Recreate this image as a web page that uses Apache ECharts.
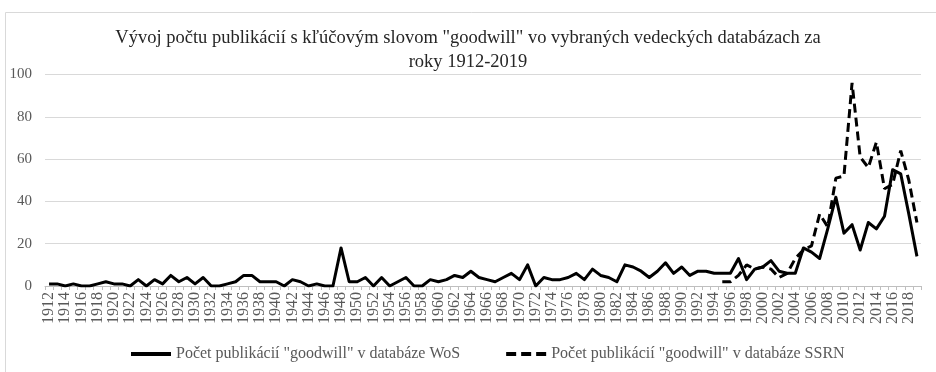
<!DOCTYPE html>
<html>
<head>
<meta charset="utf-8">
<script src="https://cdn.jsdelivr.net/npm/echarts@6/dist/echarts.min.js"></script>
<style>
  html, body { margin: 0; padding: 0; background: #ffffff; }
  #chart { width: 936px; height: 372px; }
</style>
</head>
<body>
<div id="chart"></div>
<script>
// Years on the category axis: 1912 .. 2019
const firstYear = 1912;
const lastYear = 2019;
const years = [];
for (let y = firstYear; y <= lastYear; y++) years.push(String(y));

// Publications with the keyword "goodwill" in Web of Science, 1912-2019
const wosCounts = [
  1, 1, 0, 1, 0, 0, 1, 2, 1, 1,      // 1912-1921
  0, 3, 0, 3, 1, 5, 2, 4, 1, 4,      // 1922-1931
  0, 0, 1, 2, 5, 5, 2, 2, 2, 0,      // 1932-1941
  3, 2, 0, 1, 0, 0, 18, 2, 2, 4,     // 1942-1951
  0, 4, 0, 2, 4, 0, 0, 3, 2, 3,      // 1952-1961
  5, 4, 7, 4, 3, 2, 4, 6, 3, 10,     // 1962-1971
  0, 4, 3, 3, 4, 6, 3, 8, 5, 4,      // 1972-1981
  2, 10, 9, 7, 4, 7, 11, 6, 9, 5,    // 1982-1991
  7, 7, 6, 6, 6, 13, 3, 8, 9, 12,    // 1992-2001
  7, 6, 6, 18, 16, 13, 27, 42, 25, 29, // 2002-2011
  17, 30, 27, 33, 55, 53, 34, 14     // 2012-2019
];

// Publications with the keyword "goodwill" in SSRN, available from 1995
const ssrnFirstYear = 1995;
const ssrnCounts = [
  2, 2, 5, 10, 8, 9, 8, 4, 6, 13,     // 1995-2004
  17, 19, 34, 28, 51, 52, 96, 61, 56, 68, // 2005-2014
  46, 48, 64, 50, 30                  // 2015-2019
];

// Value axis ticks
const yTicks = [0, 20, 40, 60, 80, 100];

const titleText = 'Vývoj počtu publikácií s kľúčovým slovom "goodwill" vo vybraných vedeckých databázach za\nroky 1912-2019';
const wosName = 'Počet publikácií "goodwill" v databáze WoS';
const ssrnName = 'Počet publikácií "goodwill" v databáze SSRN';

// SSRN series aligned to the full year axis (no data before 1995)
const ssrnSeries = years.map(y => {
  const i = Number(y) - ssrnFirstYear;
  return i >= 0 && i < ssrnCounts.length ? ssrnCounts[i] : null;
});

const serif = '"Liberation Serif", "Times New Roman", serif';
const textGray = '#595959';
const gridGray = '#d9d9d9';

// Legend keys: a solid bar and a three-dash bar
const solidKey = 'path://M0,0h40v4h-40z';
const dashedKey = 'path://M0,0h10v4h-10zM15,0h10v4h-10zM30,0h10v4h-10z';

const chart = echarts.init(document.getElementById('chart'), null, { renderer: 'canvas' });

chart.setOption({
  backgroundColor: '#ffffff',
  animation: false,
  graphic: [{
    type: 'rect',
    shape: { x: 5.5, y: 12.5, width: 940, height: 380 },
    style: { fill: 'none', stroke: gridGray, lineWidth: 1 },
    silent: true,
    z: -1
  }],
  title: {
    text: titleText,
    left: 'center',
    top: 21,
    textStyle: {
      fontFamily: serif,
      fontSize: 18.5,
      fontWeight: 'normal',
      color: '#262626',
      lineHeight: 24
    }
  },
  legend: {
    top: 341,
    left: 126,
    itemWidth: 40,
    itemHeight: 4,
    itemGap: 46,
    textStyle: { fontFamily: serif, fontSize: 16, color: textGray },
    data: [
      { name: wosName, icon: solidKey },
      { name: ssrnName, icon: dashedKey }
    ]
  },
  grid: {
    left: 45,
    right: 15,
    top: 74.5,
    bottom: 86,
    containLabel: false
  },
  xAxis: {
    type: 'category',
    data: years,
    boundaryGap: true,
    axisLine: { show: true, lineStyle: { color: '#bfbfbf', width: 1 } },
    axisTick: { show: true, interval: 0, length: 4, lineStyle: { color: '#bfbfbf' } },
    axisLabel: {
      interval: 1,
      rotate: 90,
      margin: 6,
      fontFamily: serif,
      fontSize: 16,
      lineHeight: 14,
      color: textGray
    },
    splitLine: { show: false }
  },
  yAxis: {
    type: 'value',
    min: yTicks[0],
    max: yTicks[yTicks.length - 1],
    interval: yTicks[1] - yTicks[0],
    axisLine: { show: false },
    axisTick: { show: false },
    axisLabel: {
      margin: 13,
      fontFamily: serif,
      fontSize: 15,
      color: textGray
    },
    splitLine: { lineStyle: { color: gridGray, width: 1 } }
  },
  series: [
    {
      name: wosName,
      type: 'line',
      data: wosCounts,
      symbol: 'none',
      lineStyle: { color: '#000000', width: 3, join: 'round' },
      itemStyle: { color: '#000000' },
      z: 3
    },
    {
      name: ssrnName,
      type: 'line',
      data: ssrnSeries,
      connectNulls: false,
      symbol: 'none',
      lineStyle: { color: '#000000', width: 3, type: [9, 5] },
      itemStyle: { color: '#000000' },
      z: 2
    }
  ]
});
</script>
</body>
</html>
